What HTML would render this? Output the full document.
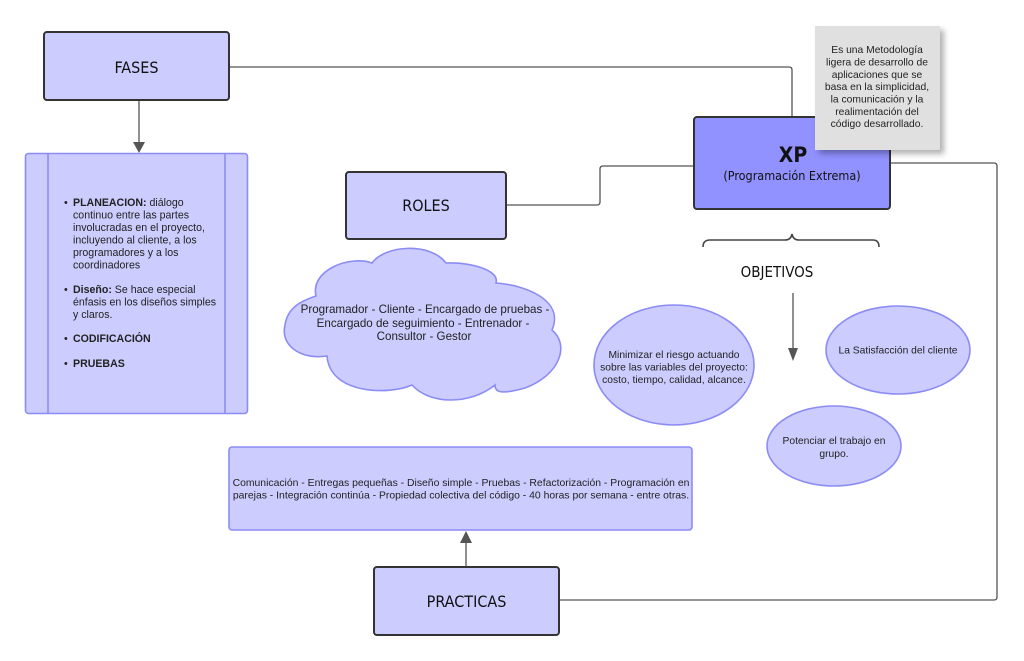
<!DOCTYPE html>
<html><head><meta charset="utf-8"><style>
html,body{margin:0;padding:0;background:#fff;}
svg{display:block;}
.t{font-family:"Liberation Sans",sans-serif;fill:#222;}
.h{font-family:"DejaVu Sans Condensed","Liberation Sans Narrow","Liberation Sans",sans-serif;fill:#111;}
</style></head><body>
<svg width="1024" height="661" viewBox="0 0 1024 661" xmlns="http://www.w3.org/2000/svg">
<defs>
<filter id="sh" x="-20%" y="-20%" width="150%" height="150%"><feDropShadow dx="4" dy="4" stdDeviation="3" flood-color="#000" flood-opacity="0.3"/></filter>
</defs>
<g fill="none" stroke="#555" stroke-width="1.3">
<path d="M229 67 H789 Q792 67 792 70 V117"/>
<path d="M506 205 H597 Q600 205 600 202 V169 Q600 166 603 166 H694"/>
<path d="M890 163 H994 Q997 163 997 166 V597 Q997 600 994 600 H559"/>
<path d="M139 100 V143"/>
<path d="M466 567 V541"/>
<path d="M793 293 V350"/>
<path d="M703 247 Q703 240 710 240 H785 Q791 240 792 234 Q793 240 799 240 H873 Q879 240 879 247" stroke="#444" stroke-width="1.6"/>
</g>
<g fill="#555">
<polygon points="133,142 145,142 139,153"/>
<polygon points="460,543 472,543 466,531"/>
<polygon points="788,348 798,348 793,361"/>
</g>
<rect x="44" y="32" width="185" height="68" rx="3" fill="#ccccff" stroke="#333" stroke-width="2"/>
<text x="136.5" y="73" text-anchor="middle" class="h" font-size="16">FASES</text>
<rect x="25.5" y="153.5" width="222" height="260" rx="3" fill="#ccccff" stroke="#8c8cf5" stroke-width="1.6"/>
<line x1="48" y1="154" x2="48" y2="413" stroke="#8c8cf5" stroke-width="1.6"/>
<line x1="225" y1="154" x2="225" y2="413" stroke="#8c8cf5" stroke-width="1.6"/>
<g class="t" font-size="10.6">
<text x="64" y="206">•</text><text x="73" y="206"><tspan font-weight="bold">PLANEACION:</tspan> diálogo</text>
<text x="73" y="218.5">continuo entre las partes</text>
<text x="73" y="231">involucradas en el proyecto,</text>
<text x="73" y="243.5">incluyendo al cliente, a los</text>
<text x="73" y="256">programadores y a los</text>
<text x="73" y="268.5">coordinadores</text>
<text x="64" y="293">•</text><text x="73" y="293"><tspan font-weight="bold">Diseño:</tspan>  Se hace especial</text>
<text x="73" y="305.5">énfasis en los diseños simples</text>
<text x="73" y="318">y claros.</text>
<text x="64" y="342">•</text><text x="73" y="342" font-weight="bold">CODIFICACIÓN</text>
<text x="64" y="367">•</text><text x="73" y="367" font-weight="bold">PRUEBAS</text>
</g>
<rect x="346" y="172" width="160" height="67" rx="3" fill="#ccccff" stroke="#333" stroke-width="2"/>
<text x="426" y="211" text-anchor="middle" class="h" font-size="16">ROLES</text>
<path d="M316 296 C310 270 350 255 372 263 C385 245 430 242 446 263 C470 262 500 270 496 283 C525 285 565 300 552 330 C570 345 560 375 525 388 C500 395 495 392 495 385 C470 405 430 405 412 385 C390 395 330 395 327 356 C300 360 280 345 285 325 C288 305 305 300 316 296 Z" fill="#ccccff" stroke="#8c8cf5" stroke-width="1.6"/>
<g class="t" font-size="11.6" text-anchor="middle">
<text x="425" y="313">Programador - Cliente - Encargado de pruebas -</text>
<text x="423" y="327">Encargado de seguimiento - Entrenador -</text>
<text x="424" y="340">Consultor - Gestor</text>
</g>
<rect x="694" y="117" width="196" height="92" rx="3" fill="#9191ff" stroke="#333" stroke-width="2"/>
<text x="793" y="162" text-anchor="middle" class="h" font-size="21" font-weight="bold">XP</text>
<text x="792" y="180" text-anchor="middle" class="h" font-size="12.5" fill="#222">(Programación Extrema)</text>
<rect x="815" y="26" width="125" height="124" fill="#e0e0e0" filter="url(#sh)"/>
<g class="t" font-size="10.3" text-anchor="middle">
<text x="877" y="53">Es una Metodología</text>
<text x="877" y="65.5">ligera de desarrollo de</text>
<text x="877" y="78">aplicaciones que se</text>
<text x="877" y="90">basa en la simplicidad,</text>
<text x="877" y="102.5">la comunicación y la</text>
<text x="877" y="115">realimentación del</text>
<text x="877" y="127">código desarrollado.</text>
</g>
<text x="777" y="277" text-anchor="middle" class="h" font-size="15">OBJETIVOS</text>
<g fill="#ccccff" stroke="#8c8cf5" stroke-width="1.6">
<ellipse cx="674" cy="365" rx="80" ry="60"/>
<ellipse cx="898" cy="350" rx="72" ry="44"/>
<ellipse cx="834" cy="446" rx="67" ry="40"/>
</g>
<g class="t" font-size="10.3" text-anchor="middle">
<text x="674" y="358">Minimizar el riesgo actuando</text>
<text x="674" y="370.5">sobre las variables del proyecto:</text>
<text x="674" y="383">costo, tiempo, calidad, alcance.</text>
<text x="898" y="353.5">La Satisfacción del cliente</text>
<text x="834" y="444">Potenciar el trabajo en</text>
<text x="834" y="457">grupo.</text>
</g>
<rect x="229" y="447" width="463" height="83" rx="3" fill="#ccccff" stroke="#8c8cf5" stroke-width="1.6"/>
<g class="t" font-size="10.4" text-anchor="middle">
<text x="461" y="486">Comunicación - Entregas pequeñas - Diseño simple - Pruebas - Refactorización - Programación en</text>
<text x="461" y="498.5">parejas -  Integración continúa - Propiedad colectiva del código - 40 horas por semana - entre otras.</text>
</g>
<rect x="374" y="567" width="185" height="68" rx="3" fill="#ccccff" stroke="#333" stroke-width="2"/>
<text x="466.5" y="607" text-anchor="middle" class="h" font-size="16">PRACTICAS</text>
</svg>
</body></html>
